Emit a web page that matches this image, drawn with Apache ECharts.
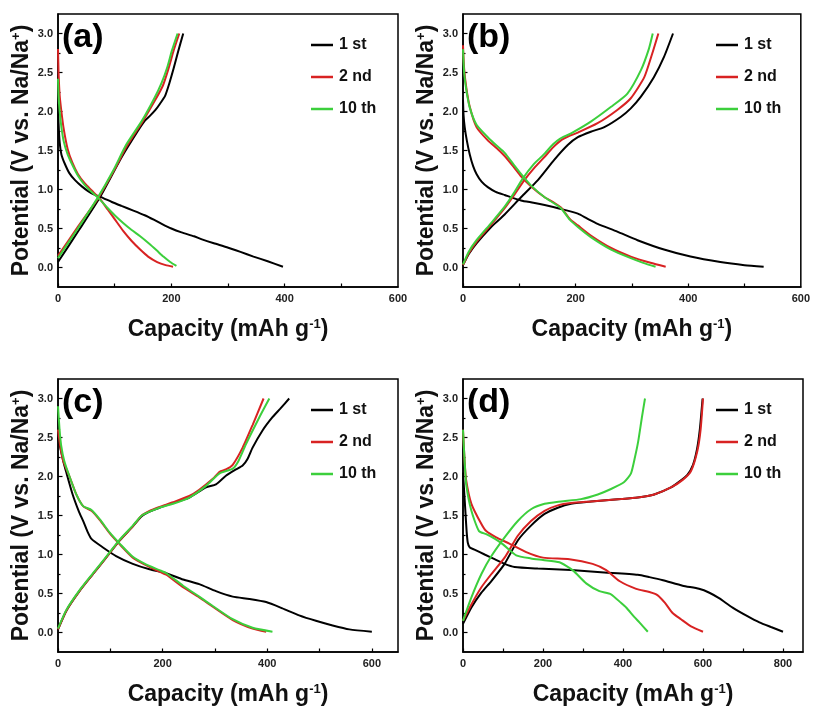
<!DOCTYPE html>
<html>
<head>
<meta charset="utf-8">
<title>Charge/discharge profiles</title>
<script src="https://cdn.jsdelivr.net/npm/echarts@6/dist/echarts.min.js"></script>
<style>
  html, body { margin: 0; padding: 0; background: #fff; }
  #chart { width: 813px; height: 707px; }
</style>
</head>
<body>
<div id="chart"></div>
<script>
// Galvanostatic charge/discharge profiles: [capacity (mAh/g), potential (V)]
const cycleNames = ['1 st', '2 nd', '10 th'];
const cycleColors = ['#000000', '#d82222', '#3ccf3c'];
const panelLabels = ['(a)', '(b)', '(c)', '(d)'];

const xMaxes = [600, 600, 650, 850];
const xLabelValues = [[0, 200, 400, 600], [0, 200, 400, 600], [0, 200, 400, 600], [0, 200, 400, 600, 800]];
const xTickValues = [[0, 100, 200, 300, 400, 500], [0, 100, 200, 300, 400, 500], [0, 100, 200, 300, 400, 500, 600], [0, 100, 200, 300, 400, 500, 600, 700, 800]];
const yLabelValues = [0, 0.5, 1.0, 1.5, 2.0, 2.5, 3.0];
const yMinorValues = [0.25, 0.75, 1.25, 1.75, 2.25, 2.75];

// (a)
const aDis1 = [[0,2.1],[1,1.85],[3,1.6],[6,1.45],[12,1.33],[20,1.21],[30,1.12],[42,1.04],[53,0.98],[65,0.93],[77,0.9],[95,0.84],[112,0.79],[133,0.73],[153,0.67],[170,0.61],[183,0.56],[200,0.5],[218,0.45],[240,0.4],[254,0.36],[275,0.31],[298,0.26],[322,0.2],[345,0.14],[370,0.08],[397,0.01]];
const aChg1 = [[0,0.07],[37,0.48],[74,0.9],[112,1.41],[140,1.74],[153,1.88],[163,1.95],[172,2.02],[180,2.1],[189,2.2],[196,2.35],[204,2.55],[212,2.77],[221,3.0]];
const aDis2 = [[0,2.8],[1,2.5],[3,2.2],[6,2.0],[10,1.78],[17,1.52],[25,1.35],[35,1.2],[47,1.08],[59,0.99],[74,0.88],[88,0.74],[100,0.62],[115,0.47],[130,0.34],[145,0.23],[159,0.14],[175,0.07],[190,0.03],[203,0.01]];
const aChg2 = [[0,0.15],[35,0.52],[70,0.88],[100,1.26],[121,1.55],[150,1.88],[171,2.14],[185,2.33],[195,2.55],[204,2.78],[214,3.0]];
const aDis10 = [[0,2.42],[1,2.2],[3,2.0],[6,1.8],[10,1.62],[17,1.45],[25,1.32],[35,1.18],[47,1.06],[59,0.97],[74,0.87],[88,0.76],[100,0.67],[115,0.57],[130,0.48],[145,0.4],[160,0.31],[174,0.22],[186,0.14],[198,0.07],[209,0.02]];
const aChg10 = [[0,0.12],[35,0.5],[68,0.87],[98,1.25],[120,1.57],[148,1.88],[170,2.17],[183,2.37],[193,2.57],[201,2.78],[211,3.0]];

// (b)
const bDis1 = [[0,2.15],[1,1.95],[3,1.8],[7,1.62],[12,1.45],[18,1.3],[24,1.2],[33,1.1],[44,1.03],[58,0.97],[74,0.93],[103,0.86],[125,0.83],[145,0.8],[174,0.75],[204,0.69],[220,0.63],[239,0.56],[274,0.46],[310,0.35],[357,0.23],[404,0.14],[457,0.07],[500,0.03],[534,0.01]];
const bChg1 = [[0,0.03],[10,0.17],[24,0.31],[50,0.52],[74,0.68],[103,0.9],[133,1.12],[162,1.38],[186,1.57],[204,1.67],[227,1.74],[251,1.8],[280,1.93],[298,2.04],[316,2.19],[339,2.44],[357,2.7],[373,3.0]];
const bDis2 = [[0,2.85],[2,2.55],[6,2.3],[12,2.06],[24,1.8],[44,1.63],[60,1.53],[74,1.43],[90,1.29],[103,1.17],[121,1.04],[145,0.9],[160,0.84],[174,0.77],[190,0.62],[204,0.54],[227,0.41],[263,0.25],[298,0.14],[333,0.06],[360,0.01]];
const bChg2 = [[0,0.03],[10,0.18],[24,0.33],[50,0.55],[74,0.76],[90,0.92],[109,1.12],[127,1.28],[145,1.42],[160,1.54],[174,1.63],[190,1.69],[204,1.73],[239,1.85],[274,2.02],[298,2.17],[322,2.44],[336,2.74],[347,3.0]];
const bDis10 = [[0,2.8],[2,2.5],[6,2.27],[12,2.05],[24,1.83],[44,1.67],[60,1.56],[74,1.47],[90,1.32],[103,1.2],[121,1.05],[145,0.9],[160,0.83],[174,0.76],[190,0.61],[204,0.52],[227,0.39],[263,0.23],[298,0.12],[320,0.06],[342,0.01]];
const bChg10 = [[0,0.04],[10,0.2],[24,0.35],[50,0.57],[74,0.78],[90,0.95],[106,1.14],[125,1.32],[145,1.46],[160,1.58],[172,1.65],[192,1.72],[227,1.87],[263,2.06],[292,2.23],[316,2.53],[330,2.8],[337,3.0]];

// (c)
const cDis1 = [[0,2.5],[5,2.35],[10,2.2],[16,2.05],[28,1.77],[40,1.55],[48,1.43],[56,1.3],[64,1.2],[86,1.09],[111,0.98],[143,0.88],[175,0.81],[207,0.76],[239,0.68],[270,0.62],[302,0.53],[334,0.46],[366,0.43],[398,0.39],[429,0.31],[461,0.22],[493,0.15],[525,0.09],[557,0.04],[600,0.01]];
const cChg1 = [[0,0.04],[16,0.28],[41,0.53],[67,0.75],[92,0.96],[118,1.18],[143,1.36],[160,1.49],[175,1.55],[194,1.6],[220,1.66],[251,1.73],[283,1.86],[302,1.9],[321,2.01],[340,2.09],[353,2.14],[362,2.22],[372,2.37],[391,2.59],[410,2.76],[425,2.87],[442,3.0]];
const cDis2 = [[0,2.6],[4,2.4],[10,2.2],[22,2.0],[35,1.77],[48,1.62],[64,1.56],[80,1.44],[99,1.27],[118,1.13],[143,0.96],[169,0.86],[194,0.78],[207,0.74],[239,0.58],[270,0.45],[296,0.33],[334,0.16],[372,0.05],[398,0.01]];
const cChg2 = [[0,0.04],[16,0.28],[41,0.53],[67,0.75],[92,0.96],[118,1.18],[143,1.36],[160,1.5],[175,1.56],[194,1.61],[220,1.67],[251,1.75],[270,1.83],[296,1.97],[309,2.06],[321,2.09],[334,2.15],[353,2.37],[372,2.66],[393,3.0]];
const cDis10 = [[0,2.9],[3,2.6],[6,2.4],[12,2.2],[22,2.0],[35,1.77],[48,1.62],[64,1.57],[80,1.45],[99,1.28],[118,1.14],[143,0.97],[169,0.87],[194,0.8],[207,0.76],[239,0.6],[270,0.46],[296,0.34],[334,0.17],[372,0.06],[410,0.01]];
const cChg10 = [[0,0.05],[16,0.29],[41,0.54],[67,0.76],[92,0.97],[118,1.19],[143,1.37],[160,1.5],[175,1.55],[194,1.6],[220,1.65],[251,1.73],[283,1.88],[309,2.04],[334,2.1],[345,2.2],[359,2.41],[385,2.76],[404,3.0]];

// (d)
const dDis1 = [[0,2.05],[3,1.8],[6,1.55],[9,1.3],[12,1.15],[17,1.09],[30,1.06],[54,1.0],[79,0.94],[104,0.88],[129,0.84],[187,0.82],[270,0.8],[353,0.77],[437,0.74],[466,0.71],[500,0.67],[549,0.6],[590,0.56],[616,0.51],[640,0.44],[674,0.32],[711,0.21],[741,0.13],[770,0.07],[800,0.01]];
const dChg1 = [[0,0.11],[21,0.32],[46,0.51],[71,0.66],[104,0.88],[137,1.18],[170,1.37],[204,1.52],[237,1.6],[270,1.65],[320,1.68],[395,1.71],[437,1.73],[478,1.77],[520,1.86],[545,1.95],[561,2.02],[575,2.15],[585,2.35],[592,2.6],[599,3.0]];
const dDis2 = [[0,2.6],[4,2.2],[8,1.95],[21,1.65],[46,1.39],[58,1.3],[83,1.22],[116,1.14],[158,1.03],[200,0.96],[266,0.94],[324,0.88],[358,0.8],[391,0.66],[433,0.56],[466,0.52],[486,0.48],[505,0.38],[524,0.25],[545,0.17],[570,0.08],[600,0.01]];
const dChg2 = [[0,0.15],[21,0.36],[46,0.58],[71,0.75],[104,0.96],[137,1.24],[170,1.43],[204,1.56],[237,1.63],[270,1.66],[320,1.68],[395,1.71],[437,1.73],[478,1.77],[520,1.86],[550,1.96],[570,2.07],[586,2.33],[594,2.6],[600,3.0]];
const dDis10 = [[0,2.6],[4,2.2],[8,1.9],[21,1.56],[40,1.3],[58,1.26],[80,1.2],[100,1.13],[133,0.99],[170,0.95],[200,0.93],[241,0.9],[274,0.8],[308,0.63],[341,0.53],[370,0.49],[395,0.38],[408,0.32],[428,0.2],[441,0.13],[462,0.01]];
const dChg10 = [[0,0.15],[21,0.45],[46,0.75],[71,0.98],[104,1.22],[137,1.43],[170,1.58],[204,1.65],[245,1.68],[295,1.71],[337,1.77],[370,1.84],[403,1.93],[420,2.04],[430,2.25],[438,2.45],[447,2.75],[455,3.0]];

const panelCurves = [
  [[aDis1, aChg1], [aDis2, aChg2], [aDis10, aChg10]],
  [[bDis1, bChg1], [bDis2, bChg2], [bDis10, bChg10]],
  [[cDis1, cChg1], [cDis2, cChg2], [cDis10, cChg10]],
  [[dDis1, dChg1], [dDis2, dChg2], [dDis10, dChg10]]
];

// Layout of the 2x2 panel grid (pixels)
const gridRects = [
  { left: 58, top: 14, width: 340, height: 273 },
  { left: 463, top: 14, width: 340, height: 273 },
  { left: 58, top: 379, width: 340, height: 273 },
  { left: 463, top: 379, width: 340, height: 273 }
];

const FONT = '"Liberation Sans", Arial, Helvetica, sans-serif';
const INK = '#111';

const grid = [], xAxis = [], yAxis = [], series = [], legend = [], title = [];

gridRects.forEach((r, p) => {
  grid.push(Object.assign({ show: true, borderColor: '#000', borderWidth: 1.5, backgroundColor: 'transparent' }, r));

  xAxis.push({
    type: 'value', gridIndex: p, min: 0, max: xMaxes[p],
    name: 'Capacity (mAh g{sup|-1})', nameLocation: 'middle', nameGap: 31,
    nameTextStyle: {
      fontFamily: FONT, fontSize: 23, fontWeight: 'bold', color: INK,
      rich: { sup: { fontFamily: FONT, fontSize: 13, fontWeight: 'bold', color: INK, verticalAlign: 'top' } }
    },
    splitLine: { show: false },
    axisLine: { show: true, onZero: false, lineStyle: { color: '#000', width: 1.5 } },
    axisTick: { show: true, inside: true, length: 3.5, customValues: xTickValues[p], lineStyle: { color: '#000', width: 1.2 } },
    axisLabel: { show: true, customValues: xLabelValues[p], margin: 6, fontFamily: FONT, fontSize: 11, fontWeight: 'bold', color: '#222', formatter: v => String(v) }
  });

  // main potential axis
  yAxis.push({
    type: 'value', gridIndex: p, min: -0.25, max: 3.25, position: 'left',
    name: 'Potential (V vs. Na/Na{sup|+})', nameLocation: 'middle', nameGap: 25, nameRotate: 90,
    nameTextStyle: {
      fontFamily: FONT, fontSize: 23, fontWeight: 'bold', color: INK,
      rich: { sup: { fontFamily: FONT, fontSize: 13, fontWeight: 'bold', color: INK, verticalAlign: 'top' } }
    },
    splitLine: { show: false },
    axisLine: { show: true, onZero: false, lineStyle: { color: '#000', width: 1.5 } },
    axisTick: { show: true, inside: true, length: 4.5, customValues: yLabelValues, lineStyle: { color: '#000', width: 1.2 } },
    axisLabel: { show: true, customValues: yLabelValues, margin: 5, fontFamily: FONT, fontSize: 11, fontWeight: 'bold', color: '#222', formatter: v => v.toFixed(1) }
  });
  // short minor ticks on the potential axis
  yAxis.push({
    type: 'value', gridIndex: p, min: -0.25, max: 3.25, position: 'left', offset: 0,
    splitLine: { show: false },
    axisLine: { show: false, onZero: false },
    axisTick: { show: true, inside: true, length: 2.5, customValues: yMinorValues, lineStyle: { color: '#000', width: 1.2 } },
    axisLabel: { show: false }
  });

  panelCurves[p].forEach((pair, c) => {
    pair.forEach(curve => {
      series.push({
        type: 'line', name: cycleNames[c], xAxisIndex: p, yAxisIndex: 2 * p,
        data: curve, symbol: 'none', showSymbol: false, smooth: 0.2,
        lineStyle: { color: cycleColors[c], width: 2 },
        itemStyle: { color: cycleColors[c] },
        z: 2 + c, silent: true
      });
    });
  });

  legend.push({
    data: cycleNames.map(n => ({ name: n, icon: 'rect' })),
    orient: 'vertical', left: r.left + 253, top: r.top + 23,
    padding: 0, itemGap: 16, itemWidth: 22, itemHeight: 2.5,
    textStyle: { fontFamily: FONT, fontSize: 16, fontWeight: 'bold', color: INK, lineHeight: 16, padding: [0, 0, 0, 1] },
    selectedMode: false
  });

  title.push({
    text: panelLabels[p], left: r.left + 4, top: r.top + 7, padding: 0,
    textStyle: { fontFamily: FONT, fontSize: 34, fontWeight: 'bold', color: '#000' }
  });
});

const chart = echarts.init(document.getElementById('chart'), null, { renderer: 'canvas' });
chart.setOption({
  animation: false,
  backgroundColor: '#fff',
  title, grid, xAxis, yAxis, series, legend
});
</script>
</body>
</html>
